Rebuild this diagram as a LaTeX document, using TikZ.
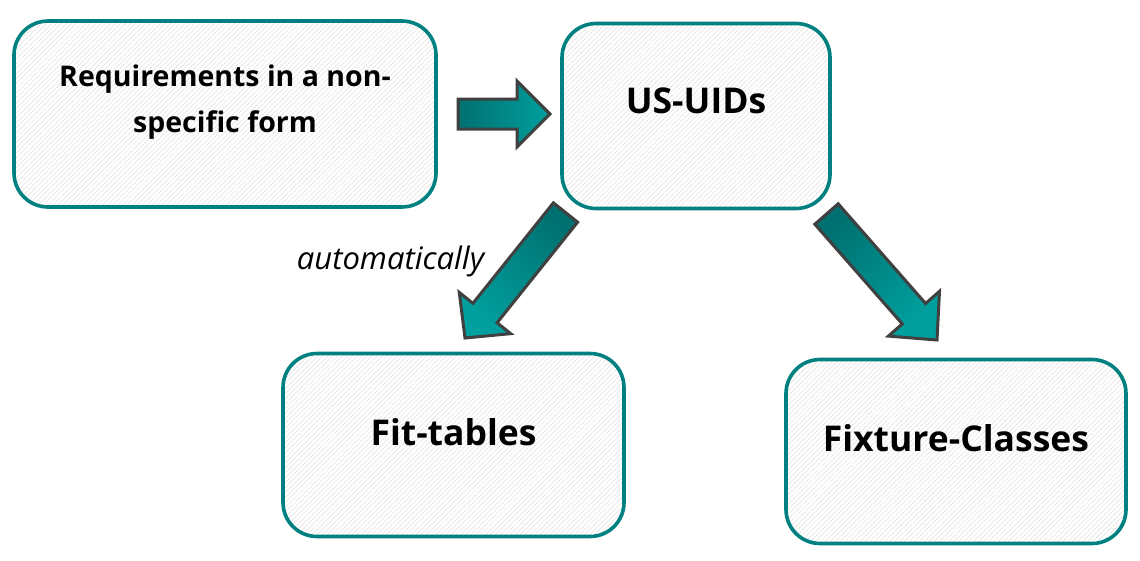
\documentclass[tikz,border=0pt]{standalone}
\usepackage{fontspec}
\setmainfont{Open Sans}
\usetikzlibrary{calc,patterns.meta}
\definecolor{boxteal}{RGB}{0,128,128}
\definecolor{arrdark}{RGB}{0,112,112}
\definecolor{arrlight}{RGB}{0,160,158}
\definecolor{arredge}{RGB}{64,64,64}
\newcommand{\blockarrow}[6]{%
  % #1 tail, #2 tip, #3 shaft half width, #4 head half width, #5 head length, #6 options
  \coordinate (hb) at ($(#2)!#5!(#1)$);
  \shade[#6] ($(#1)!#3!90:(#2)$) -- ($(hb)!#3!-90:(#1)$) -- ($(hb)!#4!-90:(#1)$)
    -- (#2) -- ($(hb)!#4!90:(#1)$) -- ($(hb)!#3!90:(#1)$) -- ($(#1)!#3!-90:(#2)$) -- cycle;
  \draw[arrowedge] ($(#1)!#3!90:(#2)$) -- ($(hb)!#3!-90:(#1)$) -- ($(hb)!#4!-90:(#1)$)
    -- (#2) -- ($(hb)!#4!90:(#1)$) -- ($(hb)!#3!90:(#1)$) -- ($(#1)!#3!-90:(#2)$) -- cycle;
}
\tikzset{
  box/.style={draw=boxteal, line width=3.6pt, rounded corners=34pt,
    pattern={Lines[angle=45,distance=3.5pt,line width=0.5pt]}, pattern color=black!13,
    inner sep=0pt},
  boxtext/.style={font=\bfseries, align=center, inner sep=0pt},
  bigtext/.style={boxtext, font=\bfseries\fontsize{35.5}{42}\selectfont},
  arrowedge/.style={draw=arredge, line width=3pt, line join=miter},
}
\begin{document}
\begin{tikzpicture}[x=1pt,y=-1pt]
\useasboundingbox (0,0) rectangle (1140,560);
% boxes
\node[box, minimum width=422pt, minimum height=186pt] (req) at (225,114) {};
\node[box, minimum width=268pt, minimum height=185pt] (usuid) at (696,116) {};
\node[box, minimum width=341pt, minimum height=183pt] (fit) at (453.5,445) {};
\node[box, minimum width=340pt, minimum height=184pt] (fix) at (956,451.5) {};
% texts
\node[boxtext, font=\bfseries\fontsize{28.5}{46}\selectfont] (reqt) at ($(req.center)+(0,-12)$)
  {Requirements in a non-\\specific form};
\node[bigtext] (usuidt) at ($(usuid.center)+(0,-15)$) {US-UIDs};
\node[bigtext] (fitt) at ($(fit.center)+(0,-13)$) {Fit-tables};
\node[bigtext] (fixt) at ($(fix.center)+(0,-13)$) {Fixture-Classes};
\node[inner sep=0pt, font=\itshape\fontsize{31}{35}\selectfont] (auto) at (390.5,261) {automatically};
% arrows
\coordinate (a1t) at (458,114);
\coordinate (a1p) at (550,114);
\coordinate (a2t) at (565.5,212.5);
\coordinate (a2p) at (465,338);
\coordinate (a3t) at (826.5,214);
\coordinate (a3p) at (937,340);
\blockarrow{a1t}{a1p}{15pt}{33pt}{33pt}{top color=arrdark, bottom color=arrlight, shading angle=90}
\blockarrow{a2t}{a2p}{15.5pt}{33pt}{32pt}{top color=arrdark, bottom color=arrlight, shading angle=-39}
\blockarrow{a3t}{a3p}{15.5pt}{34pt}{35pt}{top color=arrdark, bottom color=arrlight, shading angle=41}
\end{tikzpicture}
\end{document}
